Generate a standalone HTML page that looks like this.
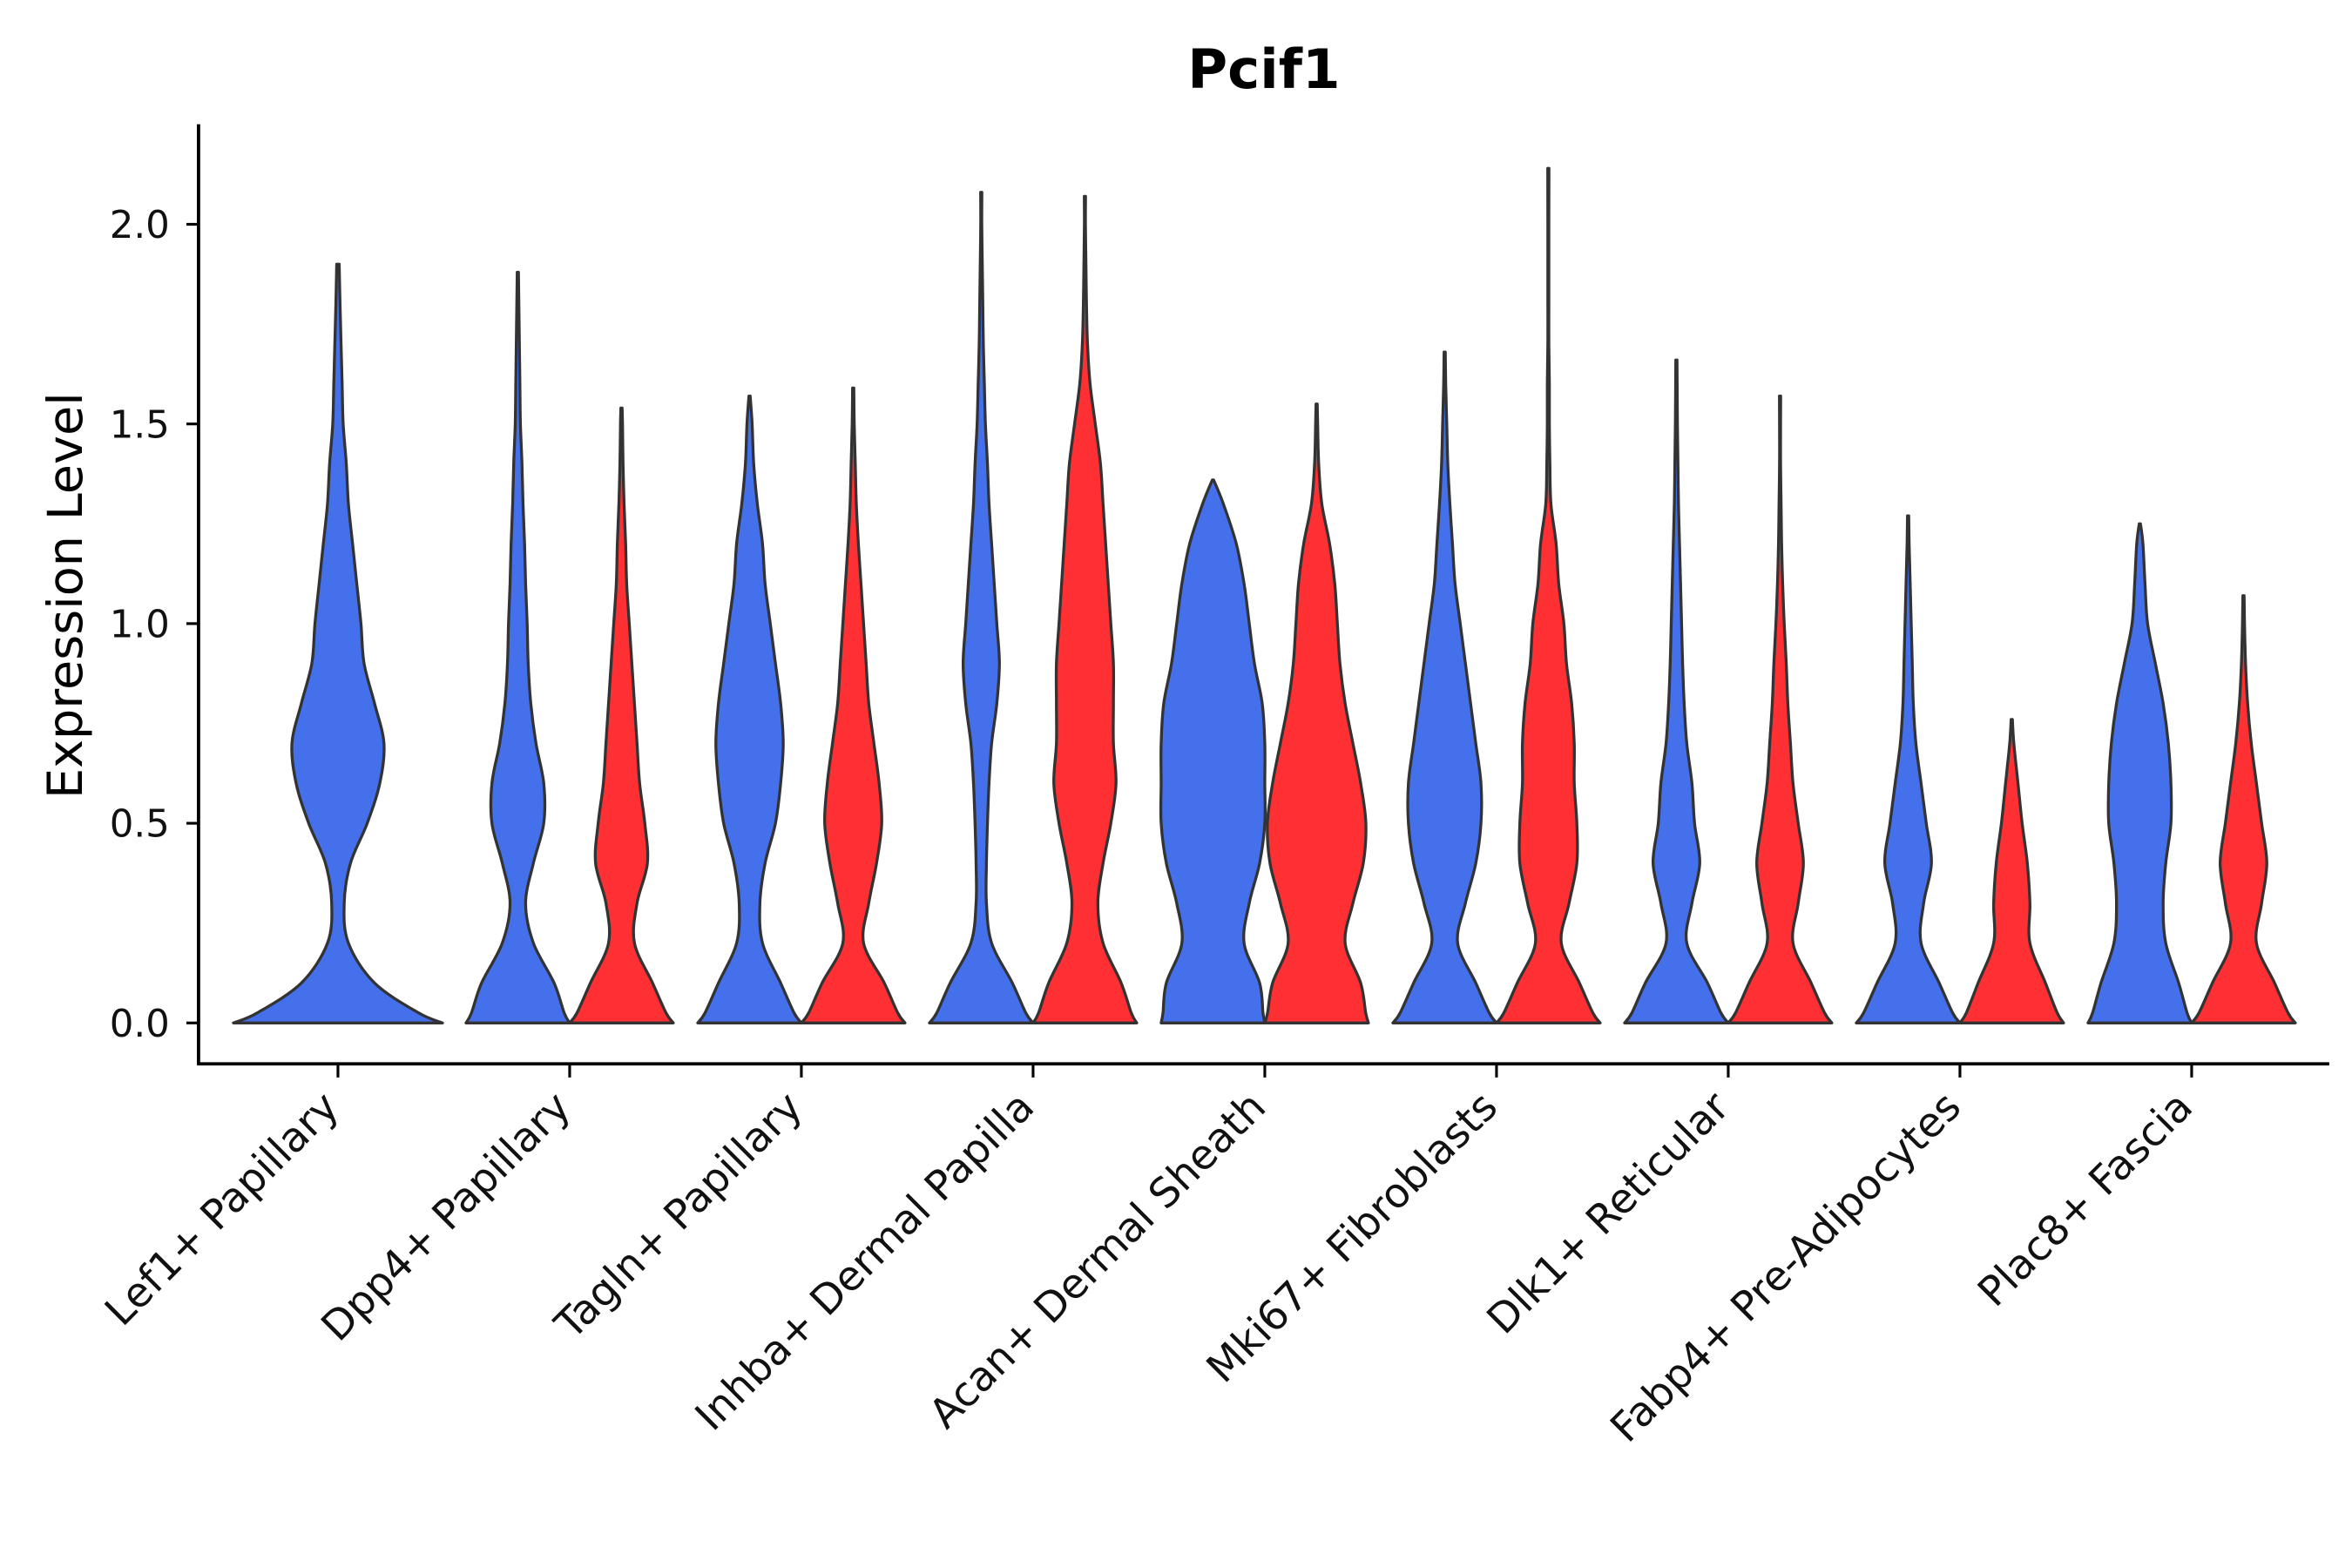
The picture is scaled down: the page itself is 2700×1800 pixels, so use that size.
<!DOCTYPE html>
<html><head><meta charset="utf-8"><style>
html,body{margin:0;padding:0;background:#fff;}
svg{display:block;font-family:"DejaVu Sans","Liberation Sans",sans-serif;}
</style></head><body>
<svg id="chart" width="2700" height="1800" viewBox="0 0 1552 1034.67" xmlns="http://www.w3.org/2000/svg">
<rect width="1552" height="1035" fill="#fff"/>
<text x="834" y="58" text-anchor="middle" font-size="36" font-weight="bold">Pcif1</text>
<text transform="translate(54,393) rotate(-90)" text-anchor="middle" font-size="32">Expression Level</text>
<g id="violins"></g>
<g id="axes"></g>
</svg>
<script>
const categories = ["Lef1+ Papillary","Dpp4+ Papillary","Tagln+ Papillary","Inhba+ Dermal Papilla","Acan+ Dermal Sheath","Mki67+ Fibroblasts","Dlk1+ Reticular","Fabp4+ Pre-Adipocytes","Plac8+ Fascia"];
const yTicks = [0, 0.5, 1.0, 1.5, 2.0];
const yTickLabels = ["0.0","0.5","1.0","1.5","2.0"];
const groupNames = ["blue","red"];
// max expression per violin [blue, red]; Lef1 has a single violin
const maxValues = [[1.90],[1.88,1.54],[1.57,1.59],[2.08,2.07],[1.36,1.55],[1.68,2.14],[1.66,1.57],[1.27,0.76],[1.25,1.07]];
// relative density at 0.1 steps
const densities = [
 [[1.0,0.35,0.1,0.06,0.12,0.28,0.4,0.44,0.35,0.25,0.22,0.18,0.14,0.1,0.08,0.05,0.04,0.03,0.02]],
 [[1.0,0.7,0.3,0.15,0.3,0.5,0.5,0.35,0.25,0.2,0.18,0.15,0.13,0.1,0.08,0.05,0.04,0.03,0.02],
  [1.0,0.6,0.25,0.3,0.5,0.45,0.35,0.3,0.25,0.2,0.15,0.1,0.08,0.05,0.03,0.02]],
 [[1.0,0.6,0.25,0.2,0.3,0.5,0.6,0.65,0.6,0.5,0.4,0.3,0.25,0.15,0.08,0.05],
  [1.0,0.6,0.2,0.3,0.45,0.55,0.5,0.4,0.3,0.25,0.2,0.15,0.1,0.06,0.04,0.02]],
 [[1.0,0.6,0.2,0.1,0.1,0.12,0.15,0.2,0.3,0.35,0.3,0.25,0.2,0.15,0.12,0.08,0.06,0.04,0.03,0.02,0.01],
  [1.0,0.7,0.35,0.25,0.35,0.5,0.6,0.55,0.55,0.55,0.5,0.45,0.4,0.35,0.3,0.2,0.1,0.05,0.03,0.02,0.01]],
 [[1.0,0.9,0.6,0.7,0.9,1.0,1.0,1.0,0.95,0.8,0.7,0.6,0.45,0.2],
  [1.0,0.85,0.55,0.7,0.9,0.95,0.85,0.7,0.55,0.45,0.4,0.35,0.25,0.1,0.04,0.02]],
 [[1.0,0.6,0.25,0.4,0.6,0.7,0.7,0.6,0.5,0.4,0.3,0.2,0.15,0.1,0.06,0.04,0.02],
  [1.0,0.6,0.25,0.4,0.55,0.55,0.5,0.5,0.45,0.35,0.3,0.2,0.15,0.05,0.03,0.02,0.02,0.01,0.01,0.01,0.01]],
 [[1.0,0.6,0.2,0.3,0.45,0.35,0.3,0.2,0.15,0.12,0.1,0.08,0.06,0.04,0.03,0.02],
  [1.0,0.6,0.25,0.35,0.45,0.35,0.25,0.2,0.15,0.12,0.08,0.05,0.03,0.02,0.01,0.01]],
 [[1.0,0.6,0.25,0.3,0.45,0.35,0.25,0.15,0.1,0.08,0.06,0.04,0.02],
  [1.0,0.65,0.35,0.35,0.3,0.2,0.12,0.04]],
 [[1.0,0.75,0.5,0.45,0.5,0.6,0.6,0.55,0.45,0.3,0.15,0.1,0.06],
  [1.0,0.6,0.25,0.35,0.45,0.35,0.25,0.15,0.08,0.04,0.02]]
];
const colors = {blue:"#4570eb", red:"#ff3033"};

const NS="http://www.w3.org/2000/svg";
const plotLeft=131, plotRight=1537, plotTop=82, plotBottom=702;
function yScale(v){ return 675 - v*263.5; }
function xScale(i){ return 223 + i*152.9; }
function mk(tag, attrs, parent){ const e=document.createElementNS(NS,tag); for(const k in attrs) e.setAttribute(k,attrs[k]); parent.appendChild(e); return e; }

function smoothSide(pts){
  let d="";
  for(let i=0;i<pts.length-1;i++){
    const p0=pts[Math.max(0,i-1)], p1=pts[i], p2=pts[i+1], p3=pts[Math.min(pts.length-1,i+2)];
    const c1=[p1[0]+(p2[0]-p0[0])/6, p1[1]+(p2[1]-p0[1])/6];
    const c2=[p2[0]-(p3[0]-p1[0])/6, p2[1]-(p3[1]-p1[1])/6];
    d+=` C${c1[0].toFixed(2)},${c1[1].toFixed(2)} ${c2[0].toFixed(2)},${c2[1].toFixed(2)} ${p2[0].toFixed(2)},${p2[1].toFixed(2)}`;
  }
  return d;
}
const vg=document.getElementById('violins');
categories.forEach((cat,ci)=>{
  const cx=xScale(ci);
  const n=densities[ci].length;
  densities[ci].forEach((dens,gi)=>{
    const halfMax = n===1 ? 69 : 34.2;
    const center = n===1 ? cx : cx + (gi===0?-34.2:34.2);
    const mx = maxValues[ci][gi];
    const ys=[], ws=[];
    for(let k=0;k<dens.length;k++){ const v=Math.min(k*0.1, mx); if(k>0 && v<=ys[ys.length-1]) break; ys.push(v); ws.push(dens[k]); }
    if(ys[ys.length-1]<mx){ ys.push(mx); ws.push(0.012); }
    // rounded base: insert a point slightly above 0
    if(ys.length>2){ ys.splice(1,0,0.025); ws.splice(1,0,ws[0]-(ws[0]-ws[1])*0.35); }
    const right=ys.map((v,k)=>[center+ws[k]*halfMax, yScale(v)]);
    const left=ys.map((v,k)=>[center-ws[k]*halfMax, yScale(v)]).reverse();
    let d=`M${left[left.length-1][0].toFixed(2)},${yScale(0)} L${right[0][0].toFixed(2)},${right[0][1].toFixed(2)}`;
    d+=smoothSide(right);
    d+=` L${left[0][0].toFixed(2)},${left[0][1].toFixed(2)}`;
    d+=smoothSide(left);
    d+=" Z";
    const p=mk('path',{d:d,fill:colors[groupNames[gi]],stroke:"#333",'stroke-width':1.9,'stroke-linejoin':'round'},vg);
    
    
  });
});
const ag=document.getElementById('axes');
const yl=mk('line',{x1:plotLeft,y1:plotTop,x2:plotLeft,y2:plotBottom,stroke:"#000",'stroke-width':2.2},ag);


const xl=mk('line',{x1:plotLeft-1,y1:plotBottom,x2:plotRight,y2:plotBottom,stroke:"#000",'stroke-width':2.2},ag);


yTicks.forEach((t,i)=>{
  const y=yScale(t);
  const tk=mk('line',{x1:plotLeft-8,y1:y,x2:plotLeft,y2:y,stroke:"#000",'stroke-width':1.8},ag);
  
  
  const tx=mk('text',{x:plotLeft-19,y:y+9,'text-anchor':'end','font-size':25,fill:"#111"},ag);
  tx.textContent=yTickLabels[i];
  
  
});
categories.forEach((c,i)=>{
  const x=xScale(i);
  const tk=mk('line',{x1:x,y1:plotBottom,x2:x,y2:plotBottom+9,stroke:"#000",'stroke-width':1.8},ag);
  
  
  const tx=mk('text',{transform:`translate(${x+2},${plotBottom+30}) rotate(-45)`,'text-anchor':'end','font-size':27,fill:"#111"},ag);
  tx.textContent=c;
  
  
});
</script>
</body></html>
